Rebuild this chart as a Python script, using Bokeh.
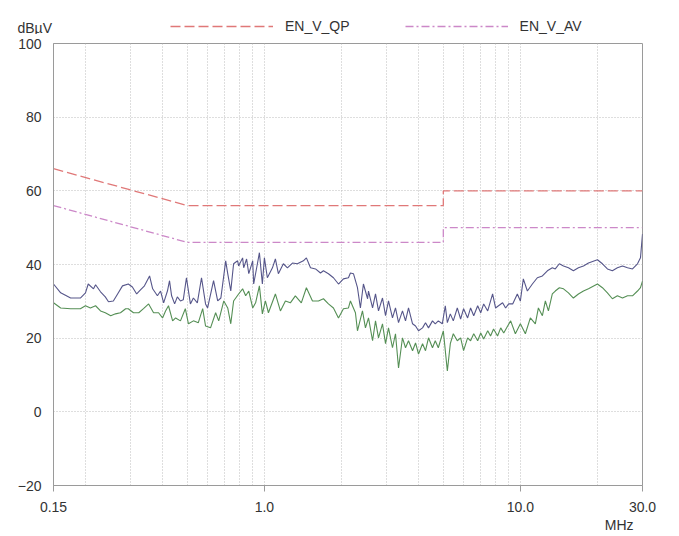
from bokeh.plotting import figure
from bokeh.layouts import column
from bokeh.models import (Range1d, FixedTicker, CustomJSTickFormatter, Legend, LegendItem, Title, Label)
from bokeh.embed import file_html
from bokeh.resources import INLINE

# ---------------- data ----------------
qp_freq = [0.150, 0.160, 0.175, 0.191, 0.200, 0.205, 0.215, 0.219, 0.229, 0.239,
           0.246, 0.257, 0.267, 0.279, 0.294, 0.305, 0.317, 0.328, 0.340, 0.356,
           0.366, 0.382, 0.393, 0.404, 0.418, 0.426, 0.434, 0.446, 0.457, 0.470,
           0.482, 0.496, 0.514, 0.528, 0.547, 0.568, 0.589, 0.600, 0.633, 0.657,
           0.676, 0.706, 0.719, 0.739, 0.758, 0.786, 0.793, 0.822, 0.830, 0.852,
           0.869, 0.900, 0.908, 0.939, 0.956, 0.982, 1.000, 1.027, 1.075, 1.104,
           1.134, 1.186, 1.230, 1.287, 1.345, 1.420, 1.459, 1.514, 1.584, 1.656,
           1.701, 1.779, 1.861, 1.947, 2.036, 2.130, 2.168, 2.228, 2.310, 2.372,
           2.437, 2.530, 2.551, 2.646, 2.717, 2.791, 2.893, 2.973, 3.054, 3.165,
           3.252, 3.342, 3.463, 3.559, 3.656, 3.791, 3.895, 4.000, 4.148, 4.260,
           4.376, 4.536, 4.651, 4.780, 4.955, 5.090, 5.185, 5.325, 5.470, 5.670,
           5.842, 6.000, 6.222, 6.390, 6.573, 6.811, 7.000, 7.189, 7.455, 7.790,
           8.000, 8.216, 8.523, 8.757, 9.000, 9.333, 9.730, 10.00, 10.27, 10.65,
           11.14, 11.65, 12.19, 12.75, 13.33, 13.69, 14.20, 14.74, 15.41, 16.11,
           16.86, 17.64, 18.45, 20.00, 20.92, 21.88, 22.88, 23.94, 25.06, 26.22,
           27.42, 28.68, 29.46, 30.00]
qp_level = [34.7, 32.3, 30.9, 30.9, 32.3, 34.7, 33.4, 34.5, 32.6, 31.2,
            29.9, 30.1, 32.0, 34.2, 34.7, 33.9, 32.0, 33.1, 34.2, 36.9,
            33.4, 31.5, 32.8, 29.6, 32.8, 35.6, 31.5, 29.3, 31.2, 30.1,
            30.4, 36.4, 29.3, 30.9, 29.6, 36.4, 29.3, 28.2, 35.6, 30.1,
            30.9, 41.0, 37.5, 32.8, 40.2, 41.0, 39.6, 41.8, 39.1, 41.5,
            37.5, 41.0, 34.7, 40.2, 43.2, 34.7, 41.8, 36.4, 39.1, 41.5,
            37.5, 40.2, 39.1, 40.4, 40.2, 41.0, 41.8, 39.1, 38.8, 37.7,
            38.3, 37.5, 36.4, 34.7, 36.1, 36.4, 37.7, 37.5, 33.7, 28.2,
            34.7, 30.7, 32.8, 28.2, 32.0, 27.4, 30.9, 26.1, 30.1, 25.5,
            28.2, 24.2, 27.4, 24.7, 28.2, 23.9, 23.3, 22.0, 22.8, 24.2,
            22.8, 24.7, 23.9, 24.7, 23.9, 28.8, 24.2, 26.6, 24.7, 28.2,
            25.2, 28.0, 25.5, 28.2, 26.1, 28.8, 26.9, 29.3, 27.4, 32.0,
            28.2, 28.8, 29.6, 28.2, 29.3, 29.3, 32.0, 30.1, 36.1, 32.8,
            34.7, 36.4, 36.9, 38.3, 39.1, 38.8, 40.2, 39.6, 39.1, 38.3,
            39.1, 39.6, 40.4, 41.3, 40.2, 38.8, 38.3, 39.1, 39.6, 39.1,
            38.8, 40.2, 41.8, 48.3]

av_freq = [0.150, 0.160, 0.175, 0.191, 0.200, 0.209, 0.219, 0.229, 0.239, 0.251,
           0.262, 0.274, 0.287, 0.294, 0.308, 0.323, 0.337, 0.353, 0.369, 0.386,
           0.400, 0.411, 0.422, 0.438, 0.450, 0.470, 0.491, 0.505, 0.528, 0.552,
           0.574, 0.589, 0.616, 0.645, 0.663, 0.694, 0.719, 0.739, 0.758, 0.793,
           0.822, 0.845, 0.869, 0.900, 0.924, 0.956, 0.982, 1.009, 1.037, 1.104,
           1.155, 1.208, 1.263, 1.321, 1.394, 1.459, 1.541, 1.626, 1.701, 1.779,
           1.861, 1.947, 2.036, 2.130, 2.168, 2.268, 2.310, 2.416, 2.482, 2.551,
           2.646, 2.717, 2.791, 2.893, 2.973, 3.054, 3.165, 3.252, 3.342, 3.463,
           3.559, 3.656, 3.791, 3.895, 4.000, 4.148, 4.260, 4.376, 4.536, 4.651,
           4.780, 5.000, 5.185, 5.325, 5.470, 5.670, 5.842, 6.000, 6.222, 6.390,
           6.573, 6.811, 7.000, 7.189, 7.455, 7.648, 7.856, 8.145, 8.379, 8.610,
           8.919, 9.163, 9.560, 10.00, 10.46, 10.94, 11.44, 11.76, 12.19, 12.52,
           12.87, 13.33, 13.69, 14.20, 14.74, 15.41, 16.11, 16.86, 17.64, 18.45,
           20.00, 20.92, 21.88, 22.88, 23.94, 25.06, 26.22, 27.42, 28.68, 29.46,
           30.00]
av_level = [29.6, 28.2, 28.0, 28.0, 28.8, 28.2, 28.8, 27.4, 26.9, 26.1,
            26.6, 26.9, 28.0, 28.0, 26.9, 26.9, 28.0, 29.3, 26.9, 26.9,
            25.5, 27.4, 28.8, 24.7, 25.5, 24.7, 28.0, 23.9, 24.7, 24.2,
            28.0, 23.3, 22.8, 26.9, 24.7, 30.1, 28.2, 23.9, 30.1, 32.0,
            33.4, 31.5, 32.8, 28.2, 29.6, 34.2, 26.6, 30.1, 26.9, 32.0,
            27.4, 30.1, 29.6, 31.5, 29.6, 33.7, 30.1, 30.1, 30.7, 29.3,
            28.2, 25.5, 28.0, 28.2, 30.1, 26.9, 22.0, 27.4, 22.8, 25.5,
            19.3, 24.7, 20.1, 23.9, 18.5, 22.8, 17.4, 21.2, 11.9, 20.1,
            17.4, 19.3, 16.6, 18.7, 15.7, 18.5, 16.6, 20.1, 17.4, 19.3,
            17.4, 22.0, 11.1, 18.5, 21.2, 19.3, 20.1, 16.6, 20.1, 19.3,
            21.2, 19.3, 21.4, 19.8, 22.0, 20.6, 22.5, 20.6, 22.8, 21.4,
            23.3, 24.7, 21.2, 23.9, 21.2, 25.5, 23.9, 28.2, 26.1, 30.1,
            27.4, 32.0, 32.8, 33.7, 33.4, 32.3, 30.9, 32.0, 32.8, 33.4,
            34.7, 33.7, 32.3, 30.7, 31.5, 30.9, 31.5, 31.5, 32.8, 33.7,
            35.5]

limit_freq = [0.15, 0.5, 5.0, 5.0, 30.0]
qp_limit = [66, 56, 56, 60, 60]
av_limit = [56, 46, 46, 50, 50]

x_ticks = [0.15, 1.0, 10.0, 30.0]
x_grid = [0.2, 0.3, 0.4, 0.5, 0.6, 0.7, 0.8, 0.9, 1.0,
          2, 3, 4, 5, 6, 7, 8, 9, 10, 20]
y_ticks = [-20, 0, 20, 40, 60, 80, 100]

assert len(qp_freq) == len(qp_level)
assert len(av_freq) == len(av_level)

FONT = "Liberation Sans"
TXT = "#333333"
QP_COLOR, QP_DASH = "#e07878", "10 4"
AV_COLOR, AV_DASH = "#cc88c8", "8 3 2 3"

# ---------------- header strip: unit label + legend ----------------
head = figure(width=668, height=34, x_range=Range1d(0, 1), y_range=Range1d(0, 1),
              output_backend="svg", toolbar_location=None,
              x_axis_location=None, y_axis_location=None,
              min_border=0, outline_line_color=None,
              background_fill_color="white", border_fill_color="white")
head.grid.visible = False

# let the strip's frame span its whole width (no alignment with the chart frame below)
unaligned = "frame_align" in head.properties()
if unaligned:
    head.frame_align = False
frame_left = 0 if unaligned else 53

# legend renderers (same limit data; they fall outside this strip's ranges)
h_qp = head.line(limit_freq, qp_limit, line_color=QP_COLOR, line_width=1.3, line_dash=QP_DASH)
h_av = head.line(limit_freq, av_limit, line_color=AV_COLOR, line_width=1.3, line_dash=AV_DASH)
legend = Legend(items=[LegendItem(label="EN_V_QP", renderers=[h_qp]),
                       LegendItem(label="EN_V_AV", renderers=[h_av])],
                orientation="horizontal", location=(170 - frame_left, 0),
                glyph_width=103, glyph_height=14, label_height=16, label_standoff=12, spacing=55,
                padding=0, margin=0, background_fill_alpha=0, border_line_alpha=0,
                label_text_font=FONT, label_text_font_size="14px", label_text_color=TXT)
head.add_layout(legend, "center")
head.add_layout(Label(x=max(17 - frame_left, 0), y=7, x_units="screen", y_units="screen",
                      text="dBµV", text_baseline="middle", text_font=FONT,
                      text_font_size="14px", text_color=TXT))

# ---------------- main chart ----------------
p = figure(width=668, height=502, x_axis_type="log",
           x_range=Range1d(0.15, 30), y_range=Range1d(-20, 100),
           output_backend="svg", toolbar_location=None,
           min_border_left=53, min_border_right=26, min_border_top=9, min_border_bottom=51,
           background_fill_color="white", border_fill_color="white",
           outline_line_color="#9a9a9a", outline_line_width=1)

# grids
p.xgrid.ticker = FixedTicker(ticks=x_grid)
p.ygrid.ticker = FixedTicker(ticks=y_ticks)
for g in (p.xgrid, p.ygrid):
    g.grid_line_color = "#bdbdbd"
    g.grid_line_dash = "1 2"
    g.grid_line_width = 1

# axes
xa = p.xaxis[0]
xa.ticker = FixedTicker(ticks=x_ticks)
xa.formatter = CustomJSTickFormatter(code="return tick < 1 ? tick.toString() : tick.toFixed(1);")
xa.major_tick_out = 6
xa.major_tick_in = 0
xa.minor_tick_out = 0
xa.minor_tick_in = 0
xa.major_label_standoff = 10

ya = p.yaxis[0]
ya.ticker = FixedTicker(ticks=y_ticks)
ya.major_tick_out = 0
ya.major_tick_in = 0
ya.minor_tick_out = 0
ya.minor_tick_in = 0
ya.major_label_standoff = 12

for ax in (xa, ya):
    ax.axis_line_color = "#9a9a9a"
    ax.major_tick_line_color = "#9a9a9a"
    ax.major_label_text_font = FONT
    ax.major_label_text_font_size = "14px"
    ax.major_label_text_color = TXT

# limit lines
p.line(limit_freq, qp_limit, line_color=QP_COLOR, line_width=1.3, line_dash=QP_DASH)
p.line(limit_freq, av_limit, line_color=AV_COLOR, line_width=1.3, line_dash=AV_DASH)

# measured traces
p.line(qp_freq, qp_level, line_color="#56568a", line_width=1.1)
p.line(av_freq, av_level, line_color="#558f55", line_width=1.1)

p.add_layout(Title(text="MHz", align="right", offset=9, standoff=0,
                   text_font=FONT, text_font_size="14px", text_font_style="normal",
                   text_color=TXT), "below")

layout = column(head, p, spacing=0)
open("out.html", "w").write(file_html(layout, INLINE))
